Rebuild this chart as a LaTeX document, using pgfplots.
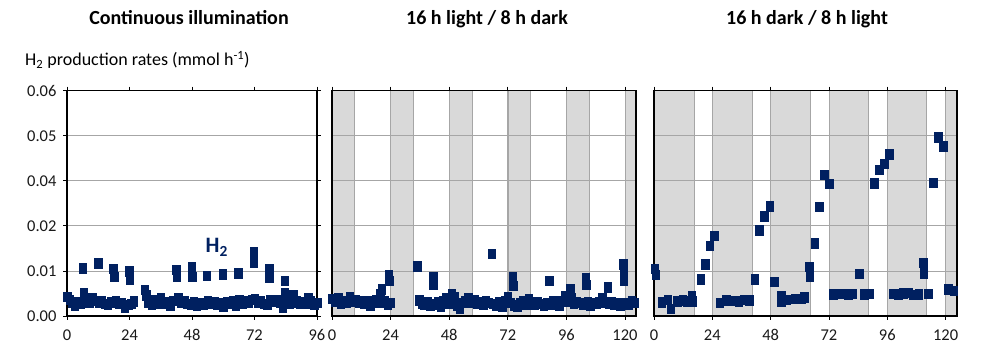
\documentclass[border=0pt]{standalone}
\usepackage{fontspec}
\setmainfont{Carlito}
\usepackage{pgfplots}
\usepackage{pgfplotstable}
\pgfplotsset{compat=1.18}

\definecolor{navy}{HTML}{002060}
\definecolor{shade}{HTML}{D9D9D9}
\definecolor{gridc}{HTML}{A6A6A6}

% H2 production rate (time in h, rate in mmol/h)
\pgfplotstableread{
t r
0.0 0.0043
1.0 0.0036
2.0 0.0030
3.0 0.0024
4.0 0.0031
5.0 0.0027
6.0 0.0106
6.3 0.0052
7.2 0.0036
8.4 0.0030
9.6 0.0041
10.8 0.0034
12.0 0.0117
12.3 0.0030
13.2 0.0033
14.4 0.0028
15.6 0.0025
16.8 0.0031
17.8 0.0105
18.0 0.0088
18.6 0.0033
19.8 0.0027
21.0 0.0030
22.2 0.0018
23.4 0.0025
23.8 0.0100
24.0 0.0082
24.6 0.0028
25.5 0.0033
29.8 0.0058
30.4 0.0046
31.2 0.0031
32.4 0.0025
33.6 0.0036
34.8 0.0029
36.0 0.0040
37.2 0.0027
38.4 0.0031
39.6 0.0024
40.8 0.0034
41.9 0.0103
42.0 0.0087
42.6 0.0040
43.8 0.0030
45.0 0.0034
46.2 0.0027
47.4 0.0025
47.9 0.0110
48.0 0.0088
48.6 0.0031
49.8 0.0023
51.0 0.0030
52.2 0.0026
53.6 0.0090
54.0 0.0033
55.2 0.0028
56.4 0.0032
57.6 0.0026
58.8 0.0030
59.7 0.0093
60.0 0.0022
61.2 0.0031
62.4 0.0027
63.6 0.0034
64.8 0.0024
65.8 0.0095
66.0 0.0035
67.2 0.0029
68.4 0.0033
69.6 0.0030
70.8 0.0036
71.6 0.0142
71.7 0.0118
72.0 0.0038
73.2 0.0030
74.4 0.0034
75.6 0.0028
76.8 0.0025
77.6 0.0104
77.7 0.0086
78.0 0.0035
79.2 0.0032
80.4 0.0036
81.6 0.0030
82.8 0.0018
83.5 0.0078
83.6 0.0052
84.0 0.0032
85.2 0.0027
86.4 0.0030
86.9 0.0047
88.2 0.0033
89.4 0.0027
90.6 0.0031
91.8 0.0028
92.6 0.0040
93.6 0.0034
94.8 0.0025
96.0 0.0030
}\continuous

\pgfplotstableread{
t r
0.0 0.0038
1.2 0.0033
2.4 0.0040
3.6 0.0029
4.8 0.0034
6.0 0.0031
7.2 0.0042
8.4 0.0033
9.6 0.0036
10.8 0.0030
12.0 0.0034
13.2 0.0028
14.4 0.0033
15.6 0.0024
16.8 0.0030
18.0 0.0036
19.2 0.0030
19.8 0.0050
20.4 0.0060
21.6 0.0033
22.8 0.0026
23.2 0.0092
23.4 0.0078
24.0 0.0030
34.9 0.0111
35.6 0.0035
36.6 0.0028
37.8 0.0025
39.0 0.0031
40.2 0.0024
41.4 0.0086
41.5 0.0070
42.0 0.0026
43.2 0.0031
44.4 0.0022
45.6 0.0034
46.8 0.0040
48.0 0.0029
49.0 0.0050
50.0 0.0043
51.0 0.0023
52.2 0.0017
53.4 0.0030
54.6 0.0034
55.8 0.0040
57.0 0.0031
58.2 0.0036
59.4 0.0029
60.6 0.0032
61.8 0.0026
63.0 0.0033
64.2 0.0030
65.4 0.0138
66.0 0.0028
67.2 0.0024
68.4 0.0032
69.6 0.0021
70.8 0.0034
72.0 0.0043
73.2 0.0030
74.0 0.0088
74.1 0.0068
74.6 0.0024
75.8 0.0022
77.0 0.0030
78.2 0.0033
79.4 0.0026
80.6 0.0038
81.8 0.0031
83.0 0.0025
84.2 0.0032
85.4 0.0028
86.6 0.0024
87.8 0.0030
89.0 0.0078
89.4 0.0026
90.6 0.0033
91.8 0.0029
93.0 0.0024
94.2 0.0034
95.4 0.0045
96.6 0.0032
97.5 0.0060
98.0 0.0040
99.0 0.0027
100.2 0.0031
101.4 0.0030
102.6 0.0026
103.8 0.0085
104.0 0.0070
104.6 0.0031
105.8 0.0024
107.0 0.0030
108.2 0.0027
109.4 0.0032
110.6 0.0040
111.8 0.0030
112.9 0.0064
113.2 0.0028
114.4 0.0032
115.6 0.0026
116.8 0.0030
118.0 0.0024
119.3 0.0115
119.4 0.0102
119.5 0.0080
120.2 0.0030
121.4 0.0025
122.6 0.0033
123.8 0.0030
}\lightlong

\pgfplotstableread{
t r
0.3 0.0105
0.7 0.0092
3.2 0.0031
5.5 0.0036
6.9 0.0017
9.6 0.0033
11.7 0.0035
13.7 0.0033
15.5 0.0044
15.7 0.0033
19.2 0.0082
21.0 0.0115
22.8 0.0156
24.8 0.0178
26.9 0.0030
29.6 0.0035
32.6 0.0034
34.8 0.0033
37.1 0.0036
39.1 0.0035
41.3 0.0082
43.3 0.0191
45.4 0.0222
47.5 0.0244
49.5 0.0076
52.3 0.0045
52.4 0.0033
54.6 0.0037
57.8 0.0039
60.8 0.0038
61.7 0.0042
63.9 0.0109
64.0 0.0087
66.0 0.0162
68.0 0.0243
70.0 0.0314
72.0 0.0294
73.8 0.0049
75.8 0.0050
77.9 0.0050
79.9 0.0049
81.8 0.0050
84.5 0.0094
86.4 0.0049
88.5 0.0050
90.5 0.0295
92.6 0.0325
94.6 0.0338
96.7 0.0359
98.5 0.0050
100.5 0.0049
102.6 0.0051
104.7 0.0052
106.7 0.0047
108.8 0.0049
110.8 0.0118
110.9 0.0095
112.9 0.0050
114.9 0.0296
117.0 0.0397
119.0 0.0377
121.1 0.0060
123.2 0.0056
}\darklong

\pgfplotsset{
  panel/.style={
    set layers,
    scale only axis,
    anchor=south west,
    height=225.3pt,
    xmin=0, ymin=0, ymax=0.05,
    clip=false,
    scaled y ticks=false,
    xtick={0,24,48,72,96,120},
    ytick={0,0.01,0.02,0.03,0.04,0.05},
    ymajorgrids,
    grid style={gridc, line width=0.8pt},
    axis line style={black, line width=1.4pt},
    tick align=outside,
    major tick length=4pt,
    tick style={black, line width=0.8pt},
    /pgf/number format/assume math mode=true,
    ticklabel style={font=\fontsize{16.5}{16.5}\selectfont, text=black!90},
    xticklabel style={yshift=-6pt},
    yticklabel style={xshift=-3pt},
  },
  noy/.style={yticklabels={}, ytick style={draw=none}},
  pts/.style={only marks, mark=square*, mark size=4.7pt,
    mark options={xscale=0.8, fill=navy, draw=navy, line width=0.2pt}},
  dark/.style={fill=shade, draw=gridc, line width=0.6pt, on layer=axis background, forget plot},
}

\begin{document}
\begin{tikzpicture}
% page frame
\path (0,0) rectangle (982pt,345pt);

% panel titles and axis label
\node[anchor=base, font=\fontsize{20}{20}\selectfont\bfseries] at (189pt,320pt) {Continuous illumination};
\node[anchor=base, font=\fontsize{20}{20}\selectfont\bfseries] at (487pt,320pt) {16 h light / 8 h dark};
\node[anchor=base, font=\fontsize{20}{20}\selectfont\bfseries] at (807pt,320pt) {16 h dark / 8 h light};
\node[anchor=base west, font=\fontsize{18}{18}\selectfont, inner sep=0pt] at (25pt,279pt)
  {H\textsubscript{2} production rates (mmol h\textsuperscript{-1})};

% continuous illumination
\begin{axis}[panel, at={(67pt,29pt)}, width=250pt, xmax=96,
  yticklabels={0.00,0.01,0.02,0.04,0.05,0.06}]
  \addplot[pts] table[x=t, y=r] {\continuous};
  \node[anchor=base, text=navy, font=\fontsize{22}{22}\selectfont\bfseries]
    at (axis cs:57.5,0.0140) {H\textsubscript{2}};
\end{axis}

% 16 h light / 8 h dark, dark phases shaded
\begin{axis}[panel, noy, at={(332pt,29pt)}, width=304pt, xmax=124.5, xmajorgrids]
  \addplot[dark] coordinates {(0,0) (0,0.05) (9.3,0.05) (9.3,0)} -- cycle;
  \addplot[dark] coordinates {(24,0) (24,0.05) (33.3,0.05) (33.3,0)} -- cycle;
  \addplot[dark] coordinates {(48,0) (48,0.05) (57.3,0.05) (57.3,0)} -- cycle;
  \addplot[dark] coordinates {(72,0) (72,0.05) (81.3,0.05) (81.3,0)} -- cycle;
  \addplot[dark] coordinates {(96,0) (96,0.05) (105.3,0.05) (105.3,0)} -- cycle;
  \addplot[dark] coordinates {(120,0) (120,0.05) (124.5,0.05) (124.5,0)} -- cycle;
  \addplot[pts] table[x=t, y=r] {\lightlong};
\end{axis}

% 16 h dark / 8 h light, dark phases shaded
\begin{axis}[panel, noy, at={(654pt,29pt)}, width=303pt, xmax=124.7, xmajorgrids]
  \addplot[dark] coordinates {(0,0) (0,0.05) (16.4,0.05) (16.4,0)} -- cycle;
  \addplot[dark] coordinates {(24,0) (24,0.05) (40.3,0.05) (40.3,0)} -- cycle;
  \addplot[dark] coordinates {(48,0) (48,0.05) (64.2,0.05) (64.2,0)} -- cycle;
  \addplot[dark] coordinates {(72,0) (72,0.05) (88.2,0.05) (88.2,0)} -- cycle;
  \addplot[dark] coordinates {(96,0) (96,0.05) (112.2,0.05) (112.2,0)} -- cycle;
  \addplot[dark] coordinates {(120,0) (120,0.05) (124.7,0.05) (124.7,0)} -- cycle;
  \addplot[pts] table[x=t, y=r] {\darklong};
\end{axis}
\end{tikzpicture}
\end{document}
